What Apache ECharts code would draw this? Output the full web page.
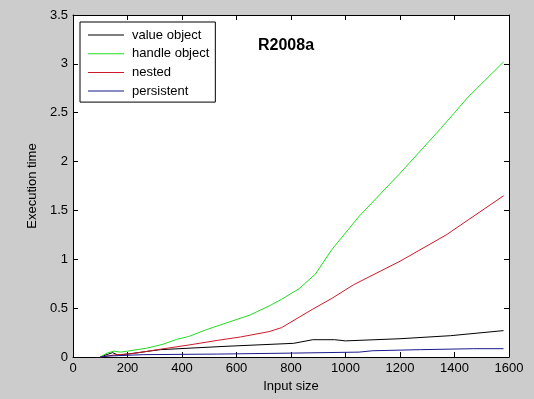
<!DOCTYPE html>
<html>
<head>
<meta charset="utf-8">
<script src="https://cdn.jsdelivr.net/npm/echarts@6/dist/echarts.min.js"></script>
<style>
html,body{margin:0;padding:0;background:#cccccc;}
#main{width:534px;height:399px;}
</style>
</head>
<body>
<div id="main"></div>
<script>
// values: [input size, execution time]
var valueObject = [[100,0],[130,0.03],[145,0.045],[165,0.02],[200,0.03],[320,0.075],[565,0.11],[810,0.14],[880,0.177],[960,0.177],[1000,0.165],[1200,0.187],[1385,0.218],[1580,0.27]];
var handleObject = [[100,0],[125,0.04],[150,0.06],[175,0.05],[200,0.06],[270,0.09],[330,0.13],[380,0.18],[425,0.21],[490,0.28],[575,0.36],[650,0.43],[725,0.53],[765,0.59],[830,0.7],[890,0.85],[950,1.1],[1050,1.44],[1200,1.88],[1350,2.34],[1450,2.66],[1580,3.02]];
var nested = [[100,0],[150,0.02],[220,0.035],[310,0.075],[430,0.125],[530,0.17],[615,0.205],[720,0.26],[765,0.3],[880,0.49],[950,0.6],[1030,0.74],[1200,0.98],[1370,1.25],[1580,1.65]];
var persistent = [[100,0],[130,0.01],[260,0.024],[530,0.03],[810,0.04],[1050,0.05],[1100,0.064],[1275,0.075],[1470,0.085],[1580,0.085]];
var seriesNames = ['value object','handle object','nested','persistent'];
var seriesColors = ['#000000','#22dd22','#cc1a2a','#1a1a8c'];
var xTicks = [0,1600,200];
var yTicks = [0,3.5,0.5];

var myChart = echarts.init(document.getElementById('main'));
var font = 'Liberation Sans, Arial, sans-serif';
function axisBase(){
	return {
		type:'value',
		axisLine:{show:true,onZero:false,lineStyle:{color:'#000',width:1}},
		axisTick:{show:true,inside:true,length:5,lineStyle:{color:'#000'}},
		splitLine:{show:false},
		axisLabel:{color:'#000',fontFamily:font,fontSize:13,formatter:function(v){return String(v);}}
	};
}
var xBottom = axisBase();
xBottom.min = xTicks[0]; xBottom.max = xTicks[1]; xBottom.interval = xTicks[2];
xBottom.position = 'bottom';
xBottom.axisLabel.margin = 5;
xBottom.name = 'Input size';
xBottom.nameLocation = 'middle';
xBottom.nameGap = 21;
xBottom.nameTextStyle = {color:'#000',fontFamily:font,fontSize:13};
var xTop = axisBase();
xTop.min = xTicks[0]; xTop.max = xTicks[1]; xTop.interval = xTicks[2];
xTop.position = 'top';
xTop.axisLabel = {show:false};
var yLeft = axisBase();
yLeft.min = yTicks[0]; yLeft.max = yTicks[1]; yLeft.interval = yTicks[2];
yLeft.position = 'left';
yLeft.axisLabel.margin = 5;
yLeft.name = 'Execution time';
yLeft.nameLocation = 'middle';
yLeft.nameGap = 27;
yLeft.nameTextStyle = {color:'#000',fontFamily:font,fontSize:13};
var yRight = axisBase();
yRight.min = yTicks[0]; yRight.max = yTicks[1]; yRight.interval = yTicks[2];
yRight.position = 'right';
yRight.axisLabel = {show:false};

var allData = [valueObject,handleObject,nested,persistent];
var series = allData.map(function(d,i){
	return {
		name:seriesNames[i],
		type:'line',
		xAxisIndex:0,
		yAxisIndex:0,
		data:d,
		showSymbol:false,
		symbol:'none',
		animation:false,
		lineStyle:{color:seriesColors[i],width:1},
		itemStyle:{color:seriesColors[i]}
	};
});

var option = {
	backgroundColor:'#cccccc',
	animation:false,
	title:{
		text:'R2008a',
		left:253,
		top:33,
		textStyle:{fontFamily:font,fontSize:16,fontWeight:'bold',color:'#000'}
	},
	grid:{left:73,right:25,top:15,bottom:42,show:true,backgroundColor:'#ffffff',borderWidth:0},
	legend:{
		data:seriesNames,
		orient:'vertical',
		left:80,
		top:22,
		backgroundColor:'#ffffff',
		borderColor:'#000',
		borderWidth:1,
		borderRadius:0,
		padding:[6,6,4,8],
		itemWidth:36,
		itemHeight:1,
		itemGap:4.7,
		icon:'rect',
		selectedMode:false,
		textStyle:{fontFamily:font,fontSize:13,color:'#000',lineHeight:14,padding:[0,0,0,3]}
	},
	xAxis:[xBottom,xTop],
	yAxis:[yLeft,yRight],
	series:series
};
myChart.setOption(option);
</script>
</body>
</html>
